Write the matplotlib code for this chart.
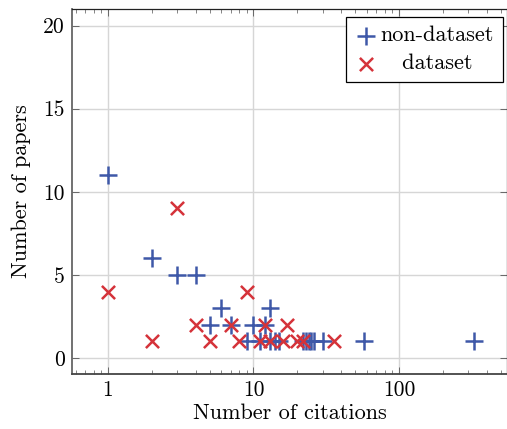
import matplotlib
matplotlib.use('Agg')
import matplotlib.pyplot as plt
from matplotlib.ticker import FixedLocator, FixedFormatter, LogLocator, NullFormatter

plt.rcParams['font.family'] = 'serif'
plt.rcParams['font.serif'] = ['cmr10', 'DejaVu Serif']
plt.rcParams['mathtext.fontset'] = 'cm'
plt.rcParams['axes.formatter.use_mathtext'] = True

# non-dataset papers: citations vs number of papers
nd_citations = [1, 2, 3, 4, 6, 5, 7, 10, 12, 13,
                9, 11, 13, 14, 15, 22, 23, 24, 25, 26, 30, 57, 330]
nd_papers = [11, 6, 5, 5, 3, 2, 2, 2, 2, 3,
             1, 1, 1, 1, 1, 1, 1, 1, 1, 1, 1, 1, 1]

# dataset papers
d_citations = [1, 3, 9, 4, 7, 12, 17,
               2, 5, 8, 11, 13, 16, 20, 22, 36]
d_papers = [4, 9, 4, 2, 2, 2, 2,
            1, 1, 1, 1, 1, 1, 1, 1, 1]

blue = '#3e58a8'
red = '#d5333a'

fig = plt.figure(figsize=(5.07, 4.29), dpi=100)
ax = fig.add_axes([72 / 507, 1 - 374 / 429, 435 / 507, 365 / 429])

ax.set_xscale('log')
ax.set_xlim(0.566, 552)
ax.set_ylim(-0.96, 21.0)

ax.grid(True, which='major', color='#d6d6d6', lw=1.0)
ax.set_axisbelow(True)

ax.scatter(nd_citations, nd_papers, marker='+', s=170, lw=1.8, color=blue,
           label='non-dataset', zorder=3)
ax.scatter(d_citations, d_papers, marker='x', s=90, lw=1.8, color=red,
           label='   dataset', zorder=3)

ax.xaxis.set_major_locator(FixedLocator([1, 10, 100]))
ax.xaxis.set_major_formatter(FixedFormatter(['1', '10', '100']))
ax.xaxis.set_minor_locator(LogLocator(base=10, subs=range(2, 10), numticks=20))
ax.xaxis.set_minor_formatter(NullFormatter())
ax.set_yticks([0, 5, 10, 15, 20])
ax.set_yticklabels(['0', '5', '10', '15', '20'])

ax.tick_params(which='both', direction='in', top=True, right=True, labelsize=15.5,
               color='#555555')
ax.tick_params(which='major', length=5, width=0.6, pad=5)
ax.tick_params(which='minor', length=3, width=0.5)

for s in ax.spines.values():
    s.set_color('#222222')
    s.set_linewidth(0.9)
ax.spines['left'].set_color('#666666')
ax.spines['left'].set_linewidth(1.3)
ax.spines['bottom'].set_color('#444444')
ax.spines['bottom'].set_linewidth(1.3)

ax.set_xlabel('Number of citations', fontsize=16, labelpad=2)
ax.set_ylabel('Number of papers', fontsize=16, labelpad=9)

leg = ax.legend(loc='upper right', fontsize=16, frameon=True, fancybox=False,
                edgecolor='black', framealpha=1, handletextpad=0.15,
                borderpad=0.4, labelspacing=0.38, handlelength=1.0,
                borderaxespad=0.0, bbox_to_anchor=(0.99, 0.978))
leg.get_frame().set_linewidth(0.9)

fig.savefig('out.png', dpi=100)
